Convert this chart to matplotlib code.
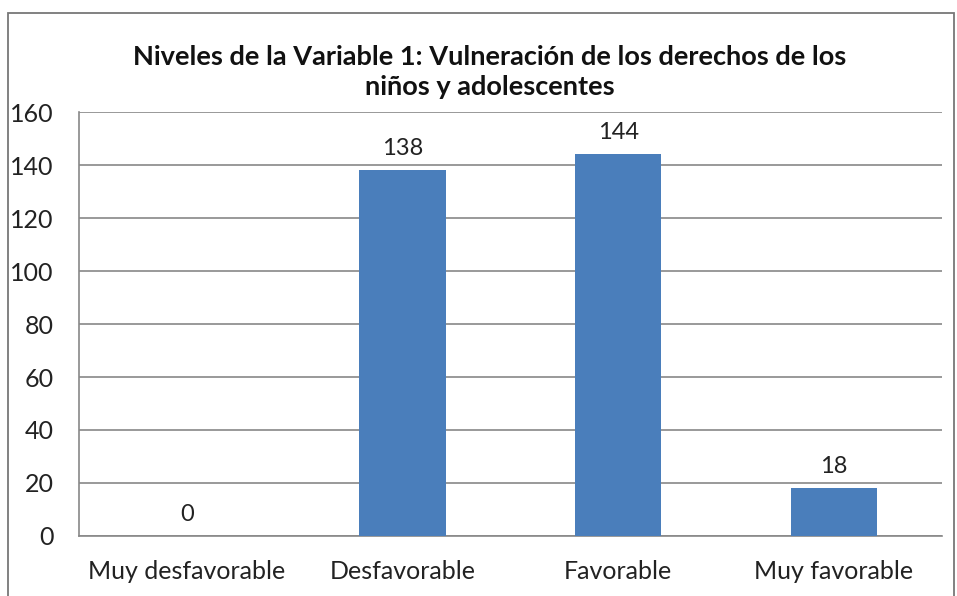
import matplotlib
matplotlib.use("Agg")
from matplotlib import pyplot as plt
from matplotlib.patches import Rectangle

categories = ["Muy desfavorable", "Desfavorable", "Favorable", "Muy favorable"]
values = [0, 138, 144, 18]
title = "Niveles de la Variable 1: Vulneración de los derechos de los\nniños y adolescentes"

plt.rcParams['font.family'] = ['Lato', 'DejaVu Sans']

fig = plt.figure(figsize=(9.57, 5.96), dpi=100)
ax = fig.add_axes([0.0825, 0.1007, 0.9015, 0.7113])

x = range(len(categories))
bars = ax.bar(x, values, width=0.4, color="#4a7ebb", zorder=3)
for xi, v in zip(x, values):
    ax.annotate(str(v), (xi, v), xytext=(0, 8), textcoords="offset points",
                ha="center", va="bottom", fontsize=17, color="#222222")

ax.set_xlim(-0.5, len(categories) - 0.5)
ax.set_ylim(0, 160)
ax.set_yticks(range(0, 161, 20))
ax.set_xticks(list(x))
ax.set_xticklabels(categories)
ax.tick_params(axis="both", length=0, labelsize=18, colors="#222222")
ax.tick_params(axis="x", pad=17)
ax.tick_params(axis="y", pad=18)
ax.grid(axis="y", color="#888888", linewidth=1.2, zorder=0)
for side in ["top", "right"]:
    ax.spines[side].set_visible(False)
ax.spines["left"].set_color("#888888")
ax.spines["bottom"].set_color("#888888")
ax.spines["left"].set_linewidth(1.2)
ax.spines["bottom"].set_linewidth(1.2)

fig.text(0.512, 0.88, title, ha="center", va="center", fontsize=19.5,
         fontweight="bold", color="#111111", linespacing=1.3)

# outer chart border
fig.add_artist(Rectangle((8 / 957, -0.01), 946 / 957, 1 - 13 / 596 + 0.01,
                         transform=fig.transFigure, fill=False,
                         edgecolor="#777777", linewidth=1.3))

fig.savefig("out.png", dpi=100)
